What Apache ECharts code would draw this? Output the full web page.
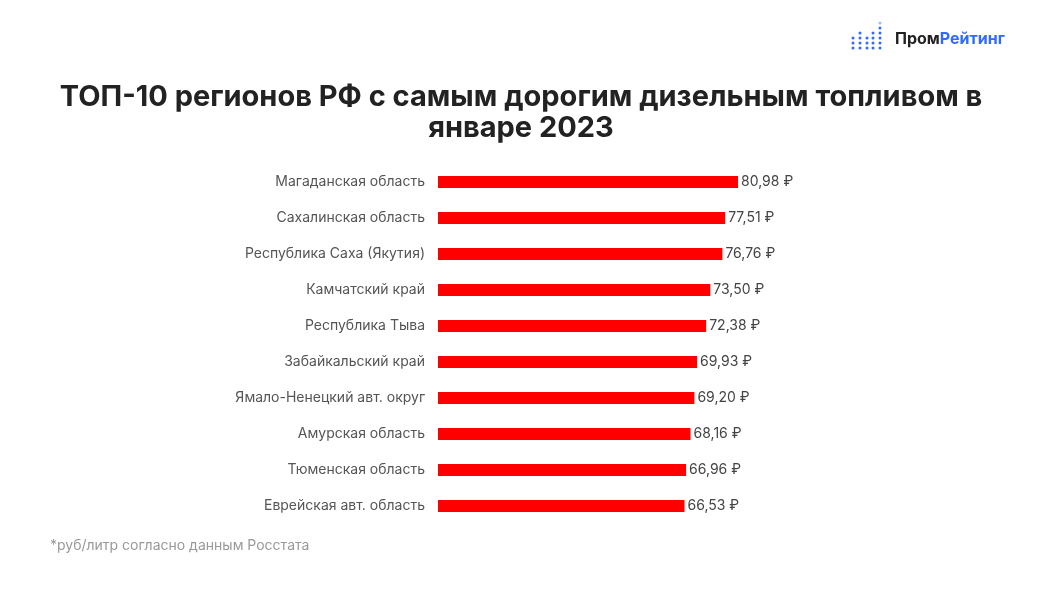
<!DOCTYPE html>
<html><head><meta charset="utf-8">
<script src="https://cdn.jsdelivr.net/npm/echarts@6/dist/echarts.min.js"></script>
<style>html,body{margin:0;padding:0;background:#fff}#c{width:1050px;height:591px}</style>
</head><body><div id="c"></div>
<script>
const regions = ["Магаданская область","Сахалинская область","Республика Саха (Якутия)","Камчатский край","Республика Тыва","Забайкальский край","Ямало-Ненецкий авт. округ","Амурская область","Тюменская область","Еврейская авт. область"];
const prices = [80.98,77.51,76.76,73.50,72.38,69.93,69.20,68.16,66.96,66.53];

const dotCols = [3,4,3,4,6];
const dots = [];
const colX = [853,860,867,873,880];
colX.forEach((x,i)=>{
  const n = dotCols[i];
  for(let r=0;r<n;r++){
    dots.push({type:'circle',shape:{cx:x,cy:48-r*5,r:1.5},style:{fill: (i===4 && r===5)?'#9bb8ff':'#2f6bff'}});
  }
});

const chart = echarts.init(document.getElementById('c'));
chart.setOption({
  backgroundColor:'#fff',
  animation:false,
  graphic:[
    ...dots,
    {type:'text',x:521,y:82,style:{text:'ТОП-10 регионов РФ с самым дорогим дизельным топливом в\nянваре 2023',
      align:'center',fontFamily:'Inter',fontWeight:'bold',fontSize:29,fill:'#222',lineHeight:31}},
    {type:'text',x:895,y:31,style:{rich:{a:{fontFamily:'Inter',fontWeight:'bold',fontSize:16,fill:'#222'},b:{fontFamily:'Inter',fontWeight:'bold',fontSize:16,fill:'#2f6bff'}},text:'{a|Пром}{b|Рейтинг}'}},
    {type:'text',x:50,y:539,style:{text:'*руб/литр согласно данным Росстата',fontFamily:'Inter',fontSize:14,fill:'#999'}}
  ],
  grid:{left:438,right:241.5,top:164,bottom:67,containLabel:false},
  xAxis:{type:'value',min:0,max:100,show:false},
  yAxis:{type:'category',data:regions,inverse:true,
    axisLine:{show:false},axisTick:{show:false},
    axisLabel:{margin:13,fontFamily:'Inter',fontSize:14,color:'#555'}},
  series:[{type:'bar',data:prices,barWidth:12,itemStyle:{color:'#ff0000'},
    label:{show:true,position:'right',distance:3,fontFamily:'Inter',fontSize:14,color:'#444',
      formatter:p=>p.value.toFixed(2).replace('.',',')+' ₽'}}]
});
</script></body></html>
